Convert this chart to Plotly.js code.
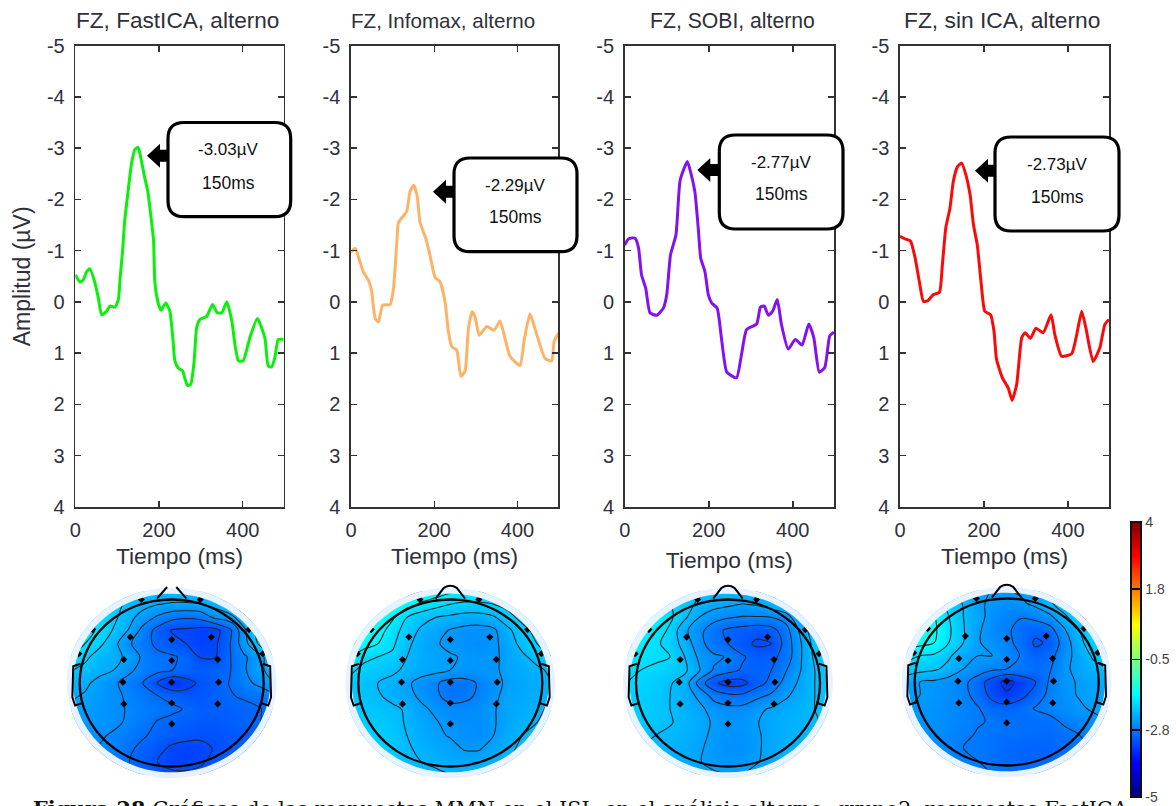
<!DOCTYPE html>
<html><head><meta charset="utf-8">
<script src="https://cdn.plot.ly/plotly-3.0.1.min.js"></script>
<style>html,body{margin:0;padding:0;background:#fff;overflow:hidden}#c{width:1176px;height:806px}</style>
</head><body><div id="c"></div>
<script>
// ---------- ERP curves (time ms, amplitude µV) ----------
const tFast=[0,11,19,27,35,47,55,63,75,83,95,103,107,113,118,126,134,142,150,158,166,173,181,187,190,198,205,216,226,233,238,246,256,268,276,284,290,298,314,328,339,350,362,374,382,390,401,417,435,453,461,469,477,485,498];
const vFast=[-.53,-.39,-.43,-.59,-.65,-.37,-.08,.25,.18,.08,.1,-.05,-.46,-1,-1.58,-2.15,-2.68,-2.97,-3.02,-2.75,-2.42,-2.17,-1.65,-1.2,-.4,.02,.16,.02,.18,.7,1.15,1.29,1.34,1.63,1.6,1.15,.5,.34,.28,.05,.21,.21,0,.37,.86,1.15,1.15,.7,.32,.7,1.25,1.27,1.08,.73,.73];
const tInfo=[0,10,22,30,42,50,58,66,76,94,102,110,114,126,134,142,151,159,166,180,190,202,214,226,234,242,254,264,274,282,291,298,308,326,344,358,370,382,406,416,430,442,466,482,488,498];
const vInfo=[-.97,-1.05,-.77,-.58,-.42,-.19,.32,.39,.06,.05,-.26,-1.16,-1.55,-1.68,-1.77,-2.16,-2.28,-2.06,-1.55,-1.23,-.9,-.48,-.39,0,.58,.87,.94,1.45,1.35,.52,.19,.29,.65,.48,.55,.37,.71,1.06,1.24,.74,.23,.52,1.1,1.15,.77,.61];
const tSobi=[0,9,17,25,33,40,50,60,76,92,100,109,122,132,149,157,167,175,181,191,199,207,220,231,243,266,278,290,314,323,332,342,352,363,373,389,406,422,438,450,463,476,488,498];
const vSobi=[-1.11,-1.23,-1.25,-1.24,-1.05,-.53,-.27,.21,.26,.12,-.14,-.92,-1.31,-2.38,-2.74,-2.53,-2.15,-1.44,-.85,-.59,-.14,.02,.12,.76,1.37,1.48,1.02,.54,.43,.1,.08,.26,.18,-.05,.44,.92,.73,.84,.43,.7,1.37,1.28,.66,.59];
const tNone=[0,12,25,36,46,56,67,79,94,101,109,119,127,137,147,157,167,175,184,193,202,216,224,230,244,258,267,278,290,298,311,324,341,360,369,385,409,421,433,443,460,476,488,498];
const vNone=[-1.28,-1.23,-1.19,-.86,-.4,-.01,-.03,-.14,-.19,-.73,-1.44,-1.83,-2.35,-2.64,-2.71,-2.48,-2.09,-1.51,-1.12,-.4,.18,.25,.57,1.12,1.48,1.68,1.92,1.61,.7,.6,.71,.51,.6,.25,.64,1.06,1.01,.64,.18,.51,1.16,.9,.44,.34];
const curveColors=['#0bf00b','#ffb266','#8412ee','#fb0a0a'];
const panelTitles=['FZ, FastICA, alterno','FZ, Infomax, alterno','FZ, SOBI, alterno','FZ, sin ICA, alterno'];
const peakLabels=['-3.03µV','-2.29µV','-2.77µV','-2.73µV'];
const latencyLabel='150ms';
const yTicks=[-5,-4,-3,-2,-1,0,1,2,3,4];
const yTickText=['-5','-4','-3','-2','-1','0','1','2','3','4'];
const xTicks=[0,200,400];

// ---------- scalp maps: rows top to bottom, columns left to right ----------
const gridX=[-1.1,-.943,-.786,-.629,-.471,-.314,-.157,0,.157,.314,.471,.629,.786,.943,1.1];
const gridY=[1.1,.943,.786,.629,.471,.314,.157,0,-.157,-.314,-.471,-.629,-.786,-.943,-1.1];
const zFast=[
[-1.9,-1.9,-1.9,-2,-2.1,-2.2,-2.2,-2.2,-2.2,-2.2,-2.1,-2,-1.9,-1.9,-1.9],
[-1.8,-1.8,-1.9,-2,-2.2,-2.3,-2.38,-2.42,-2.42,-2.4,-2.3,-2.1,-1.9,-1.8,-1.8],
[-1.75,-1.8,-1.9,-2.05,-2.3,-2.5,-2.7,-2.85,-2.9,-2.85,-2.6,-2.5,-2.2,-1.9,-1.8],
[-1.7,-1.75,-1.9,-2.15,-2.4,-2.75,-3.02,-3.22,-3.25,-3.3,-3.3,-3,-2.45,-2,-1.8],
[-1.75,-1.85,-2.05,-2.3,-2.62,-2.8,-3,-3.1,-3.2,-3.3,-3.25,-2.95,-2.5,-2.1,-1.9],
[-1.85,-2.05,-2.25,-2.35,-2.42,-2.72,-2.85,-2.9,-2.98,-3.22,-3.22,-2.95,-2.7,-2.5,-2.2],
[-2.1,-2.2,-2.3,-2.39,-2.6,-2.75,-2.85,-2.92,-3,-3.05,-3,-2.95,-2.7,-2.45,-2.3],
[-2.25,-2.33,-2.48,-2.62,-2.75,-2.93,-3.2,-3.45,-3.3,-3.15,-3.05,-2.92,-2.75,-2.6,-2.4],
[-2.35,-2.42,-2.52,-2.6,-2.7,-2.82,-2.92,-3,-3.1,-3.1,-3.02,-2.95,-2.9,-2.85,-2.75],
[-2.45,-2.5,-2.55,-2.6,-2.68,-2.75,-2.82,-2.88,-2.95,-3.05,-3.05,-3.02,-3,-2.95,-2.85],
[-2.45,-2.5,-2.55,-2.6,-2.7,-2.8,-2.95,-3,-3.05,-3.08,-3.08,-3.05,-3,-2.95,-2.85],
[-2.55,-2.58,-2.62,-2.7,-2.78,-2.9,-3,-3.08,-3.12,-3.15,-3.15,-3.12,-3.08,-3,-2.9],
[-2.6,-2.62,-2.68,-2.75,-2.88,-3,-3.12,-3.25,-3.3,-3.28,-3.18,-3.1,-3,-2.95,-2.9],
[-2.65,-2.68,-2.72,-2.8,-2.92,-3.05,-3.2,-3.28,-3.3,-3.25,-3.1,-3,-2.9,-2.85,-2.8],
[-2.6,-2.65,-2.7,-2.8,-2.9,-3,-3.1,-3.15,-3.15,-3.1,-3,-2.9,-2.85,-2.8,-2.75]];
const zInfo=[
[-1.3,-1.3,-1.3,-1.35,-1.4,-1.5,-1.6,-1.7,-1.75,-1.75,-1.7,-1.7,-1.7,-1.7,-1.7],
[-1.3,-1.3,-1.35,-1.45,-1.65,-1.8,-1.9,-2,-2.05,-2.05,-2,-1.9,-1.8,-1.75,-1.7],
[-1.3,-1.35,-1.45,-1.7,-2,-2.15,-2.25,-2.3,-2.35,-2.35,-2.28,-2.1,-1.9,-1.8,-1.75],
[-1.35,-1.45,-1.6,-1.9,-2.1,-2.3,-2.4,-2.52,-2.58,-2.6,-2.55,-2.3,-2.1,-1.9,-1.8],
[-1.45,-1.6,-1.75,-1.95,-2.2,-2.35,-2.48,-2.55,-2.6,-2.62,-2.55,-2.4,-2.15,-2,-1.9],
[-1.7,-1.95,-2,-2.05,-2.25,-2.35,-2.42,-2.48,-2.52,-2.55,-2.55,-2.42,-2.3,-2.15,-2],
[-1.95,-2.05,-2.12,-2.2,-2.3,-2.38,-2.42,-2.5,-2.55,-2.55,-2.55,-2.42,-2.35,-2.3,-2.2],
[-2.05,-2.15,-2.25,-2.32,-2.45,-2.6,-2.72,-2.85,-2.85,-2.72,-2.58,-2.45,-2.4,-2.35,-2.25],
[-2.05,-2.15,-2.22,-2.32,-2.42,-2.55,-2.7,-2.85,-2.82,-2.7,-2.55,-2.42,-2.38,-2.33,-2.25],
[-2.05,-2.1,-2.15,-2.2,-2.28,-2.45,-2.55,-2.65,-2.65,-2.6,-2.52,-2.4,-2.35,-2.3,-2.2],
[-2,-2.05,-2.1,-2.15,-2.28,-2.38,-2.48,-2.58,-2.62,-2.62,-2.52,-2.4,-2.3,-2.25,-2.15],
[-1.95,-2,-2.05,-2.12,-2.25,-2.35,-2.45,-2.52,-2.6,-2.62,-2.5,-2.35,-2.25,-2.15,-2.05],
[-1.9,-1.95,-2,-2.1,-2.22,-2.3,-2.38,-2.42,-2.52,-2.52,-2.4,-2.3,-2.2,-2.1,-2],
[-1.85,-1.9,-1.95,-2.05,-2.2,-2.25,-2.3,-2.35,-2.38,-2.38,-2.3,-2.25,-2.1,-2,-1.95],
[-1.8,-1.85,-1.9,-2,-2.1,-2.2,-2.2,-2.25,-2.25,-2.2,-2.2,-2.1,-2,-1.95,-1.9]];
const zSobi=[
[-2,-2,-2,-2.05,-2.1,-2.15,-2.2,-2.2,-2.2,-2.2,-2.15,-2.1,-2,-1.95,-1.9],
[-1.8,-1.8,-1.85,-1.95,-2.1,-2.25,-2.35,-2.4,-2.46,-2.42,-2.3,-2.15,-2,-1.9,-1.85],
[-1.6,-1.65,-1.7,-1.9,-2.15,-2.45,-2.6,-2.68,-2.72,-2.72,-2.7,-2.6,-2.2,-1.95,-1.85],
[-1.6,-1.65,-1.8,-2,-2.4,-2.62,-2.85,-3,-3.05,-3.1,-3.05,-2.8,-2.4,-2,-1.9],
[-1.65,-1.75,-1.9,-2.05,-2.3,-2.6,-2.85,-2.95,-3.1,-3.25,-3.2,-2.85,-2.48,-2.1,-1.95],
[-1.75,-1.85,-1.9,-1.95,-2.2,-2.5,-2.65,-2.72,-2.92,-3.05,-3.02,-2.85,-2.48,-2.15,-2],
[-1.9,-1.95,-2,-2.05,-2.15,-2.42,-2.72,-2.85,-2.98,-3,-2.95,-2.72,-2.46,-2.2,-2.05],
[-1.95,-2,-2.05,-2.18,-2.3,-2.8,-3.15,-3.3,-3.28,-3.05,-2.88,-2.6,-2.4,-2.2,-2.05],
[-2,-2.05,-2.1,-2.2,-2.32,-2.5,-2.78,-2.88,-2.88,-2.76,-2.65,-2.48,-2.35,-2.2,-2.1],
[-2.02,-2.05,-2.1,-2.2,-2.3,-2.38,-2.55,-2.62,-2.62,-2.5,-2.42,-2.35,-2.3,-2.2,-2.1],
[-2.05,-2.08,-2.12,-2.18,-2.28,-2.35,-2.48,-2.55,-2.55,-2.46,-2.38,-2.32,-2.28,-2.22,-2.15],
[-2.1,-2.15,-2.2,-2.25,-2.3,-2.38,-2.5,-2.58,-2.58,-2.48,-2.38,-2.32,-2.28,-2.2,-2.1],
[-2.15,-2.2,-2.25,-2.3,-2.35,-2.42,-2.52,-2.6,-2.6,-2.48,-2.38,-2.3,-2.25,-2.2,-2.1],
[-2.15,-2.2,-2.25,-2.3,-2.35,-2.44,-2.5,-2.55,-2.55,-2.46,-2.4,-2.3,-2.25,-2.15,-2.1],
[-2.1,-2.15,-2.2,-2.25,-2.3,-2.38,-2.42,-2.45,-2.45,-2.4,-2.35,-2.25,-2.2,-2.1,-2.05]];
const zNone=[
[-2.1,-2.1,-2.15,-2.2,-2.3,-2.4,-2.5,-2.5,-2.45,-2.4,-2.2,-2,-1.9,-1.8,-1.8],
[-1.6,-1.6,-1.75,-2,-2.22,-2.45,-2.55,-2.6,-2.55,-2.42,-2.25,-2,-1.8,-1.7,-1.7],
[-1.45,-1.5,-1.6,-1.9,-2.2,-2.4,-2.6,-2.72,-2.78,-2.7,-2.55,-2.25,-1.95,-1.75,-1.7],
[-1.4,-1.45,-1.55,-1.85,-2.18,-2.45,-2.65,-2.75,-2.9,-3,-2.9,-2.52,-2.2,-1.85,-1.75],
[-1.45,-1.5,-1.6,-1.9,-2.2,-2.48,-2.58,-2.72,-2.9,-3.15,-3.05,-2.65,-2.3,-2,-1.85],
[-1.8,-1.9,-1.95,-2.15,-2.4,-2.5,-2.5,-2.65,-2.82,-3,-2.9,-2.6,-2.4,-2.15,-2],
[-2,-2.1,-2.15,-2.3,-2.5,-2.65,-2.75,-2.8,-2.85,-2.9,-2.82,-2.55,-2.42,-2.3,-2.2],
[-2.4,-2.5,-2.55,-2.62,-2.72,-2.95,-3.25,-3.5,-3.3,-3.1,-2.75,-2.55,-2.48,-2.4,-2.3],
[-2.45,-2.5,-2.55,-2.62,-2.72,-2.9,-3.2,-3.35,-3.2,-2.95,-2.72,-2.58,-2.48,-2.42,-2.35],
[-2.5,-2.55,-2.58,-2.65,-2.72,-2.78,-2.95,-2.98,-2.9,-2.78,-2.7,-2.62,-2.55,-2.45,-2.4],
[-2.52,-2.55,-2.6,-2.65,-2.7,-2.78,-2.82,-2.85,-2.9,-2.9,-2.88,-2.75,-2.68,-2.6,-2.5],
[-2.52,-2.55,-2.6,-2.68,-2.75,-2.82,-2.85,-2.88,-2.9,-2.92,-2.92,-2.88,-2.8,-2.68,-2.6],
[-2.5,-2.55,-2.62,-2.72,-2.8,-2.82,-2.88,-2.95,-2.98,-3,-2.98,-2.92,-2.85,-2.75,-2.65],
[-2.5,-2.55,-2.6,-2.7,-2.78,-2.8,-2.88,-2.95,-2.98,-2.98,-2.95,-2.9,-2.8,-2.7,-2.6],
[-2.45,-2.5,-2.55,-2.62,-2.7,-2.75,-2.8,-2.85,-2.85,-2.85,-2.8,-2.75,-2.7,-2.6,-2.55]];
const contourStart=[-3.2,-2.75,-3.2,-3.4];
const contourSize=[.27,.25,.25,.3];
const electrodeX=[-.45,0,.43,-.52,0,.5,-.53,0,.51,-.52,0,.5,0,-.33,.31,-.86,.84,-1.01,.99];
const electrodeY=[.55,.52,.55,.28,.27,.28,.01,.01,.01,-.25,-.24,-.25,-.49,1,1,.64,.64,.35,.35];
const colorbarVals=[4,1.8,-.5,-2.8,-5];
const colorbarText=['4','1.8','-0.5','-2.8','-5'];
const jet=[[0,'#00007f'],[.125,'#0000ff'],[.375,'#00ffff'],[.625,'#ffff00'],[.875,'#ff0000'],[1,'#7f0000']];
const captionBold='Figura 28 ';
const captionRest='Gráficas de las respuestas MMN en el ISI₂ en el análisis alterno, grupo2, respuestas FastICA';

// ---------- layout geometry (pixels of the 1176x806 page) ----------
const W=1176,H=806, FONT='"Liberation Sans",Arial,sans-serif', INK='#30303a';
const px=x=>x/W, py=y=>1-y/H;
const panelX=[[75.3,283.7],[351,558.3],[624.7,834],[900,1109]];
const panelTop=45.7, panelBottom=507, titleX=[177,442.5,732,1001.5], titleY=20, titleSize=[22.6,20.6,21.2,22.8], tiempoStandoff=[8,8,12,8];
const mapCx=[171.7,450.3,728,1006.7], mapCy=[683,683,683,682], mapRx=92, mapRy=83.5, mapExtent=1.2;
const boxes=[[168,290.7,122.5,216.7],[454,577,158,251.7],[719.3,843,135,229],[995,1119,137,231]];
const arrows=[[147,155.7],[433,191.7],[697.3,170],[975,170.7]];
const textPos=[[228.5,150,183],[515,185,217],[781,162,194],[1057,164,197]];

const series=[[tFast,vFast],[tInfo,vInfo],[tSobi,vSobi],[tNone,vNone]];
const grids=[zFast,zInfo,zSobi,zNone];
const traces=[], layout={width:W,height:H,margin:{l:0,r:0,t:0,b:0,autoexpand:false},paper_bgcolor:'#fff',plot_bgcolor:'#fff',showlegend:false,shapes:[],annotations:[],font:{family:FONT,color:INK}};

function circlePath(r){const k=.5523*r;return `M ${-r} 0 C ${-r} ${k} ${-k} ${r} 0 ${r} C ${k} ${r} ${r} ${k} ${r} 0 C ${r} ${-k} ${k} ${-r} 0 ${-r} C ${-k} ${-r} ${-r} ${-k} ${-r} 0 Z`;}
function roundRect(x0,x1,y0,y1,r){const X=px,Y=py;return `M ${X(x0+r)} ${Y(y0)} L ${X(x1-r)} ${Y(y0)} Q ${X(x1)} ${Y(y0)} ${X(x1)} ${Y(y0+r)} L ${X(x1)} ${Y(y1-r)} Q ${X(x1)} ${Y(y1)} ${X(x1-r)} ${Y(y1)} L ${X(x0+r)} ${Y(y1)} Q ${X(x0)} ${Y(y1)} ${X(x0)} ${Y(y1-r)} L ${X(x0)} ${Y(y0+r)} Q ${X(x0)} ${Y(y0)} ${X(x0+r)} ${Y(y0)} Z`;}

for(let i=0;i<4;i++){
  const n=i+1, xa='xaxis'+(n===1?'':n), ya='yaxis'+(n===1?'':n);
  traces.push({type:'scatter',mode:'lines',x:series[i][0],y:series[i][1],xaxis:'x'+(n===1?'':n),yaxis:'y'+(n===1?'':n),line:{color:curveColors[i],width:3,shape:'spline',smoothing:.5},cliponaxis:true,hoverinfo:'skip'});
  layout[xa]={domain:[px(panelX[i][0]),px(panelX[i][1])],range:[0,498],anchor:'y'+(n===1?'':n),tickvals:xTicks,ticktext:xTicks.map(String),ticks:'inside',ticklen:6,tickwidth:1.5,tickcolor:'#333',showline:true,linecolor:'#333',linewidth:1.6,mirror:'ticks',showgrid:false,zeroline:false,tickfont:{size:20,family:FONT,color:INK},ticklabelstandoff:4,title:{text:'Tiempo (ms)',standoff:tiempoStandoff[i],font:{size:22.8,family:FONT,color:INK}}};
  layout[ya]={domain:[py(panelBottom),py(panelTop)],range:[4,-5],anchor:'x'+(n===1?'':n),tickvals:yTicks,ticktext:yTickText,ticks:'inside',ticklen:6,tickwidth:1.5,tickcolor:'#333',showline:true,linecolor:'#333',linewidth:1.6,mirror:'ticks',showgrid:false,zeroline:false,tickfont:{size:20,family:FONT,color:INK},ticklabelstandoff:5};
  if(i===0) layout[ya].title={text:'Amplitud (µV)',standoff:10,font:{size:23,family:FONT,color:INK}};
  layout.annotations.push({xref:'paper',yref:'paper',x:px(titleX[i]),y:py(titleY),text:panelTitles[i],showarrow:false,xanchor:'center',yanchor:'middle',font:{size:titleSize[i],family:FONT,color:INK}});

  // callout arrow and box
  const b=boxes[i], a=arrows[i], baseX=a[0]+13;
  layout.shapes.push({type:'path',xref:'paper',yref:'paper',layer:'above',path:`M ${px(a[0])} ${py(a[1])} L ${px(baseX)} ${py(a[1]-12)} L ${px(baseX)} ${py(a[1]-6)} L ${px(b[0]+2)} ${py(a[1]-6)} L ${px(b[0]+2)} ${py(a[1]+6)} L ${px(baseX)} ${py(a[1]+6)} L ${px(baseX)} ${py(a[1]+12)} Z`,fillcolor:'#000',line:{width:0}});
  layout.shapes.push({type:'path',xref:'paper',yref:'paper',layer:'above',path:roundRect(b[0],b[1],b[2],b[3],16),fillcolor:'#fff',line:{color:'#000',width:3.2}});
  const tp=textPos[i];
  layout.annotations.push({xref:'paper',yref:'paper',x:px(tp[0]),y:py(tp[1]),xanchor:'center',yanchor:'middle',text:peakLabels[i],showarrow:false,font:{size:17,family:FONT,color:'#111'}});
  layout.annotations.push({xref:'paper',yref:'paper',x:px(tp[0]),y:py(tp[2]),xanchor:'center',yanchor:'middle',text:latencyLabel,showarrow:false,font:{size:17.5,family:FONT,color:'#111'}});

  // scalp map
  const m=i+5, xn='x'+m, yn='y'+m;
  layout['xaxis'+m]={domain:[px(mapCx[i]-mapRx*mapExtent),px(mapCx[i]+mapRx*mapExtent)],range:[-mapExtent,mapExtent],visible:false,anchor:yn,fixedrange:true};
  layout['yaxis'+m]={domain:[py(mapCy[i]+mapRy*mapExtent),py(mapCy[i]-mapRy*mapExtent)],range:[-mapExtent,mapExtent],visible:false,anchor:xn,fixedrange:true};
  traces.push({type:'contour',x:gridX,y:gridY,z:grids[i],xaxis:xn,yaxis:yn,zauto:false,zmin:-5,zmax:4,colorscale:jet,showscale:false,
    contours:{coloring:'heatmap',start:contourStart[i],end:-1.4,size:contourSize[i],showlines:true},line:{color:'#20282c',width:1.1,smoothing:1},hoverinfo:'skip'});
  traces.push({type:'scatter',mode:'markers',x:electrodeX,y:electrodeY,xaxis:xn,yaxis:yn,marker:{symbol:'diamond',size:5.5,color:'#000'},hoverinfo:'skip'});
  const sq=`M ${-mapExtent} ${-mapExtent} L ${mapExtent} ${-mapExtent} L ${mapExtent} ${mapExtent} L ${-mapExtent} ${mapExtent} Z `;
  layout.shapes.push({type:'path',xref:xn,yref:yn,layer:'above',path:sq+circlePath(1.14),fillrule:'evenodd',fillcolor:'#fff',line:{width:0}});
  layout.shapes.push({type:'path',xref:xn,yref:yn,layer:'above',path:circlePath(1.14)+' '+circlePath(1.07),fillrule:'evenodd',fillcolor:'#e8f2ff',line:{width:0}});
  layout.shapes.push({type:'path',xref:xn,yref:yn,layer:'above',path:circlePath(1),line:{color:'#000',width:2.3}});
  const nose=i===0?'M -.16 1.01 L -.05 1.15 M .05 1.15 L .16 1.01':'M -.16 1.01 L -.07 1.14 Q 0 1.19 .07 1.14 L .16 1.01';
  layout.shapes.push({type:'path',xref:xn,yref:yn,layer:'above',path:nose,line:{color:'#000',width:2}});
  layout.shapes.push({type:'path',xref:xn,yref:yn,layer:'above',path:'M -.99 .23 L -1.07 .2 L -1.08 -.17 L -1.05 -.27 L -.97 -.24',line:{color:'#000',width:2}});
  layout.shapes.push({type:'path',xref:xn,yref:yn,layer:'above',path:'M .99 .23 L 1.07 .2 L 1.08 -.17 L 1.05 -.27 L .97 -.24',line:{color:'#000',width:2}});
}

// colour bar, carried by a point hidden under the white mask of the last map
traces.push({type:'scatter',mode:'markers',x:[1.19,1.19],y:[1.19,1.19],xaxis:'x8',yaxis:'y8',hoverinfo:'skip',
  marker:{size:1,color:[-5,4],cmin:-5,cmax:4,colorscale:jet,showscale:true,colorbar:{x:px(1131),xanchor:'left',xpad:0,y:py(522),yanchor:'top',ypad:0,len:275,lenmode:'pixels',thickness:10,thicknessmode:'pixels',
    tickmode:'array',tickvals:colorbarVals,ticktext:colorbarText,ticks:'inside',ticklen:10,tickwidth:1.5,tickcolor:'#000',outlinecolor:'#111',outlinewidth:2,borderwidth:0,tickfont:{size:14,family:FONT,color:'#444'}}}});

// caption, cut by the bottom of the page as in the source
layout.annotations.push({xref:'paper',yref:'paper',x:px(31),y:py(795),xanchor:'left',yanchor:'top',text:'<b>'+captionBold+'</b>'+captionRest,showarrow:false,font:{size:20.7,family:'"DejaVu Serif","Liberation Serif",serif',color:'#111'}});

Plotly.newPlot('c',traces,layout,{staticPlot:true,displayModeBar:false});
</script></body></html>
